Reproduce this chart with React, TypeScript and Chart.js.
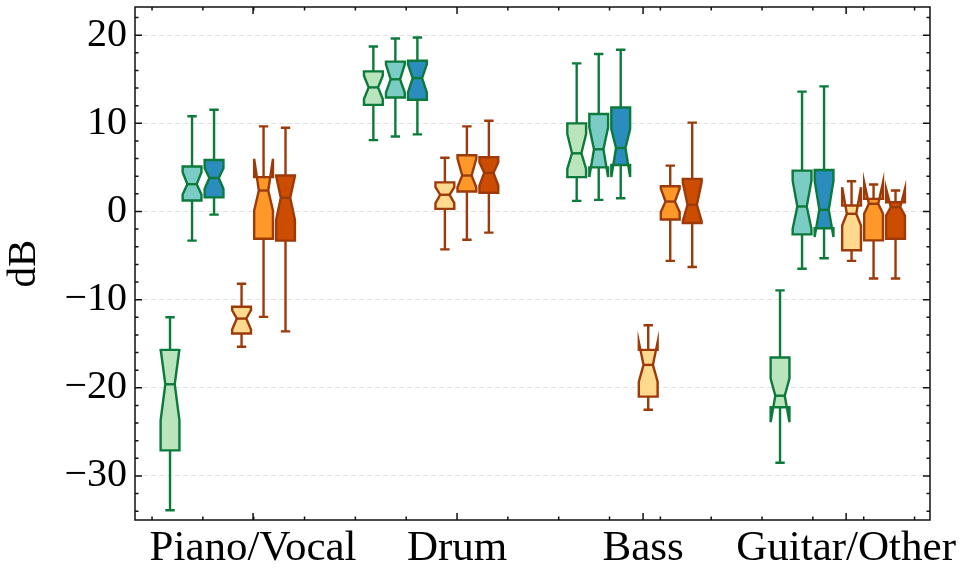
import { useEffect, useRef } from "react";
import { Chart, registerables } from "chart.js";
import type { ChartConfiguration, Plugin } from "chart.js";

Chart.register(...registerables);

// ====== categories & axis ticks ======
const GROUPS = ["Piano/Vocal", "Drum", "Bass", "Guitar/Other"];
const GROUP_TICKS = [1.633, 5.646, 9.306, 13.3]; // where the category labels sit
const GROUP_START = [0, 4, 8, 12];
const Y_TICKS = [20, 10, 0, -10, -20, -30];

// 6 boxes per group: 3 green-ish, 3 orange-ish
const BOX_OFFSET = [0, 0.433, 0.866, 1.407, 1.84, 2.272];
const FILLS = ["#bae4bc", "#7bccc4", "#2b8cbe", "#fed98e", "#fe9929", "#cc4c02"];
const EDGES = ["#0b7a3b", "#0b7a3b", "#0b7a3b", "#9c3a0a", "#9c3a0a", "#9c3a0a"];

// ====== box statistics (dB), one row per box series, one column per group ======
const WHISKER_LO = [
  [-33.9, 8.1, 1.2, -28.5],
  [-3.3, 8.5, 1.32, -6.5],
  [-0.35, 8.75, 1.5, -5.3],
  [-15.35, -4.3, -22.5, -5.6],
  [-11.96, -3.2, -5.6, -7.6],
  [-13.6, -2.4, -6.3, -7.6],
];
const Q1 = [
  [-27.1, 12.1, 3.9, -22.2],
  [1.25, 12.94, 5.0, -2.6],
  [1.6, 12.68, 5.28, -1.9],
  [-13.85, 0.3, -21.0, -4.4],
  [-3.1, 2.26, -0.9, -3.28],
  [-3.3, 2.12, -1.3, -3.1],
];
const NOTCH_LO = [
  [-23.7, 12.76, 4.83, -23.9],
  [1.93, 13.5, 3.9, -1.96],
  [2.57, 13.5, 3.9, -2.9],
  [-13.4, 0.95, -19.3, -1.6],
  [0.1, 2.75, -0.07, -0.26],
  [-0.95, 2.94, -1.1, -0.45],
];
const MEDIAN = [
  [-19.6, 14.08, 6.6, -20.9],
  [3.1, 15.0, 7.06, 0.57],
  [3.8, 15.14, 7.2, 0.19],
  [-12.15, 1.9, -17.4, -0.26],
  [2.38, 4.08, 1.13, 0.87],
  [1.55, 4.38, 0.76, 0.49],
];
const NOTCH_HI = [
  [-15.6, 15.4, 8.8, -18.95],
  [4.45, 16.7, 9.55, 3.5],
  [4.9, 16.7, 9.36, 3.5],
  [-11.2, 2.75, -14.8, 2.75],
  [5.97, 6.0, 2.6, 3.3],
  [4.0, 5.6, 3.3, 2.56],
];
const Q3 = [
  [-15.7, 15.9, 10.0, -16.57],
  [5.1, 17.0, 11.06, 4.64],
  [5.85, 17.1, 11.8, 4.7],
  [-10.8, 3.3, -15.7, 0.68],
  [3.9, 6.38, 2.87, 1.43],
  [4.08, 6.15, 3.7, 1.05],
];
const WHISKER_HI = [
  [-12.0, 18.72, 16.8, -8.95],
  [10.8, 19.63, 17.86, 13.6],
  [11.55, 19.74, 18.35, 14.2],
  [-8.2, 6.1, -12.9, 3.43],
  [9.66, 9.66, 5.2, 3.06],
  [9.5, 10.3, 10.08, 2.38],
];

const BOX_WIDTH = 0.37;
const FONT = "'Liberation Serif', 'DejaVu Serif', serif";

// notched boxes drawn like matplotlib's bxp(notch=True)
const notchedBoxes: Plugin<"scatter"> = {
  id: "notchedBoxes",
  beforeDatasetsDraw(chart) {
    const { ctx } = chart;
    const xs = chart.scales.x;
    const ys = chart.scales.y;
    const Y = (v: number) => ys.getPixelForValue(v);
    ctx.save();
    ctx.lineWidth = 2.4;
    ctx.lineJoin = "miter";
    ctx.lineCap = "butt";
    FILLS.forEach((fill, s) => {
      GROUPS.forEach((_, g) => {
        const cx = GROUP_START[g] + BOX_OFFSET[s];
        const px = xs.getPixelForValue(cx);
        const half = xs.getPixelForValue(cx + BOX_WIDTH / 2) - px;
        const L = px - half;
        const R = px + half;
        const cl = px - half / 2;
        const cr = px + half / 2;
        ctx.strokeStyle = EDGES[s];

        // whiskers + caps
        ctx.beginPath();
        ctx.moveTo(px, Y(Q1[s][g]));
        ctx.lineTo(px, Y(WHISKER_LO[s][g]));
        ctx.moveTo(px, Y(Q3[s][g]));
        ctx.lineTo(px, Y(WHISKER_HI[s][g]));
        ctx.moveTo(cl, Y(WHISKER_LO[s][g]));
        ctx.lineTo(cr, Y(WHISKER_LO[s][g]));
        ctx.moveTo(cl, Y(WHISKER_HI[s][g]));
        ctx.lineTo(cr, Y(WHISKER_HI[s][g]));
        ctx.stroke();

        // box outline with notch
        ctx.beginPath();
        ctx.moveTo(L, Y(Q1[s][g]));
        ctx.lineTo(R, Y(Q1[s][g]));
        ctx.lineTo(R, Y(NOTCH_LO[s][g]));
        ctx.lineTo(cr, Y(MEDIAN[s][g]));
        ctx.lineTo(R, Y(NOTCH_HI[s][g]));
        ctx.lineTo(R, Y(Q3[s][g]));
        ctx.lineTo(L, Y(Q3[s][g]));
        ctx.lineTo(L, Y(NOTCH_HI[s][g]));
        ctx.lineTo(cl, Y(MEDIAN[s][g]));
        ctx.lineTo(L, Y(NOTCH_LO[s][g]));
        ctx.closePath();
        ctx.fillStyle = fill;
        ctx.fill();
        ctx.stroke();

        // median
        ctx.beginPath();
        ctx.moveTo(cl, Y(MEDIAN[s][g]));
        ctx.lineTo(cr, Y(MEDIAN[s][g]));
        ctx.stroke();
      });
    });
    ctx.restore();
  },
};

// frame with inward ticks on all four sides
const frameTicks: Plugin<"scatter"> = {
  id: "frameTicks",
  afterDraw(chart) {
    const { ctx, chartArea: a } = chart;
    const xs = chart.scales.x;
    const ys = chart.scales.y;
    ctx.save();
    ctx.strokeStyle = "#111";
    ctx.lineWidth = 1.5;
    ctx.strokeRect(a.left, a.top, a.right - a.left, a.bottom - a.top);
    ctx.beginPath();
    // y major / minor
    for (let v = -34; v <= 22; v += 2) {
      const p = ys.getPixelForValue(v);
      const len = v % 10 === 0 ? 7 : 3.5;
      ctx.moveTo(a.left, p);
      ctx.lineTo(a.left + len, p);
      ctx.moveTo(a.right, p);
      ctx.lineTo(a.right - len, p);
    }
    // x minor
    for (let v = -0.354; v < xs.max; v += 1) {
      const p = xs.getPixelForValue(v);
      ctx.moveTo(p, a.bottom);
      ctx.lineTo(p, a.bottom - 3.5);
      ctx.moveTo(p, a.top);
      ctx.lineTo(p, a.top + 3.5);
    }
    // x major at category labels
    GROUP_TICKS.forEach((v) => {
      const p = xs.getPixelForValue(v);
      ctx.moveTo(p, a.bottom);
      ctx.lineTo(p, a.bottom - 7);
      ctx.moveTo(p, a.top);
      ctx.lineTo(p, a.top + 7);
    });
    ctx.stroke();
    ctx.restore();
  },
};

export default function NotchedBoxChart() {
  const canvasRef = useRef<HTMLCanvasElement | null>(null);
  const chartRef = useRef<Chart<"scatter"> | null>(null);

  useEffect(() => {
    const ctx = canvasRef.current!.getContext("2d")!;

    const config: ChartConfiguration<"scatter"> = {
      type: "scatter",
      data: { datasets: [] },
      plugins: [notchedBoxes, frameTicks],
      options: {
        responsive: true,
        maintainAspectRatio: false,
        animation: false,
        layout: { padding: { top: 7, right: 39, left: 0, bottom: 0 } },
        plugins: { legend: { display: false }, tooltip: { enabled: false } },
        scales: {
          x: {
            type: "linear",
            min: -0.689,
            max: 14.95,
            grid: { display: false, drawTicks: false },
            border: { display: false },
            afterBuildTicks(scale) {
              scale.ticks = GROUP_TICKS.map((value) => ({ value }));
            },
            afterFit(scale: any) {
              scale.height = 59;
              scale.paddingLeft = 0;
              scale.paddingRight = 0;
            },
            ticks: {
              color: "#000",
              font: { family: FONT, size: 43 },
              padding: 3,
              maxRotation: 0,
              autoSkip: false,
              callback(_v, i) {
                return GROUPS[i];
              },
            },
          },
          y: {
            type: "linear",
            min: -35,
            max: 23.2,
            grid: { color: "#e2e2e2", lineWidth: 1, drawTicks: false },
            border: { display: false, dash: [5, 3] },
            afterBuildTicks(scale) {
              scale.ticks = Y_TICKS.map((value) => ({ value }));
            },
            afterFit(scale: any) {
              scale.width = 135;
              scale.paddingTop = 0;
              scale.paddingBottom = 0;
            },
            ticks: {
              color: "#000",
              font: { family: FONT, size: 40 },
              padding: 8,
              callback(v) {
                const n = Number(v);
                return n < 0 ? `\u2212${Math.abs(n)}` : String(n);
              },
            },
            title: {
              display: true,
              text: "dB",
              color: "#000",
              font: { family: FONT, size: 41 },
              padding: { top: 0, bottom: 0 },
            },
          },
        },
      },
    };

    chartRef.current = new Chart(ctx, config);
    return () => chartRef.current?.destroy();
  }, []);

  return (
    <div style={{ position: "fixed", left: 0, top: 0, width: 969, height: 579, background: "#fff" }}>
      <canvas ref={canvasRef} />
    </div>
  );
}
